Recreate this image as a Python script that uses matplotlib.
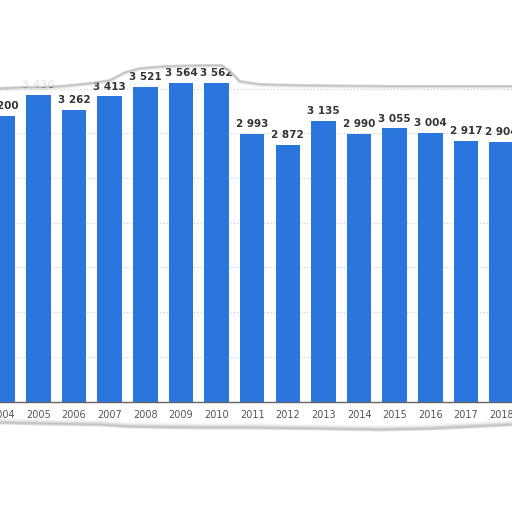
import matplotlib
matplotlib.use("Agg")
import matplotlib.pyplot as plt
import numpy as np

years = [2004, 2005, 2006, 2007, 2008, 2009, 2010, 2011, 2012, 2013, 2014, 2015, 2016, 2017, 2018]
values = [3200, 3430, 3262, 3413, 3521, 3564, 3562, 2993, 2872, 3135, 2990, 3055, 3004, 2917, 2904]
tick_labels = [str(y) for y in years]

def fmt(v):
    return f"{v:,}".replace(",", " ")

fig = plt.figure(figsize=(5.12, 5.12), dpi=100)
fig.patch.set_facecolor("white")
ax = fig.add_axes([0, 1 - 401.5 / 512, 1, 357.5 / 512])
ax.set_facecolor("white")
bars = ax.bar(years, values, width=0.69, color="#2a76dd", zorder=3)
ax.set_xlim(2003.924, 2018.29)
ax.set_ylim(0, 4000)
ax.set_yticks(np.arange(0, 4001, 500))
ax.yaxis.grid(True, linestyle=(0, (1, 2)), color="#c8c8c8", linewidth=0.8, zorder=0)
ax.tick_params(axis="y", left=False, labelleft=False)
ax.set_xticks(years)
ax.set_xticklabels(tick_labels, fontsize=7, color="#555555")
ax.tick_params(axis="x", length=0, pad=6)
for s in ["top", "left", "right"]:
    ax.spines[s].set_visible(False)
ax.spines["bottom"].set_color("#666666")
ax.spines["bottom"].set_linewidth(1.0)
ax.spines["bottom"].set_zorder(4)
for x, v in zip(years, values):
    ax.annotate(fmt(v), (x, v), xytext=(0, 3.5), textcoords="offset points",
                ha="center", va="bottom", fontsize=7.5, fontweight="bold", color="#333333")

# torn paper overlay
ov = fig.add_axes([0, 0, 1, 1], zorder=10)
ov.set_xlim(0, 512)
ov.set_ylim(512, 0)
ov.axis("off")
ov.patch.set_alpha(0)
top_x = [0, 20, 40, 60, 90, 110, 125, 140, 165, 200, 222, 230, 240, 260, 300, 400, 512]
top_y = [88, 87, 87, 86, 83, 80, 72, 68, 66, 65, 65, 71, 81, 84, 85, 86, 86]
bot_x = [0, 40, 100, 130, 200, 250, 320, 380, 430, 470, 512]
bot_y = [423, 424, 425, 427, 428, 428, 429, 430, 429, 427, 425]
ov.fill_between(top_x, 0, top_y, color="white", alpha=0.9, zorder=1)
ov.fill_between(bot_x, bot_y, 512, color="white", zorder=1)
for i, a in enumerate([0.35, 0.2, 0.1, 0.05]):
    ov.plot(top_x, np.array(top_y) + i * 0.8, color="#888888", alpha=a, linewidth=1.5, zorder=2)
    ov.plot(bot_x, np.array(bot_y) - i * 1.2, color="#888888", alpha=a, linewidth=2.0, zorder=2)

fig.savefig("out.png", dpi=100, facecolor="white")
